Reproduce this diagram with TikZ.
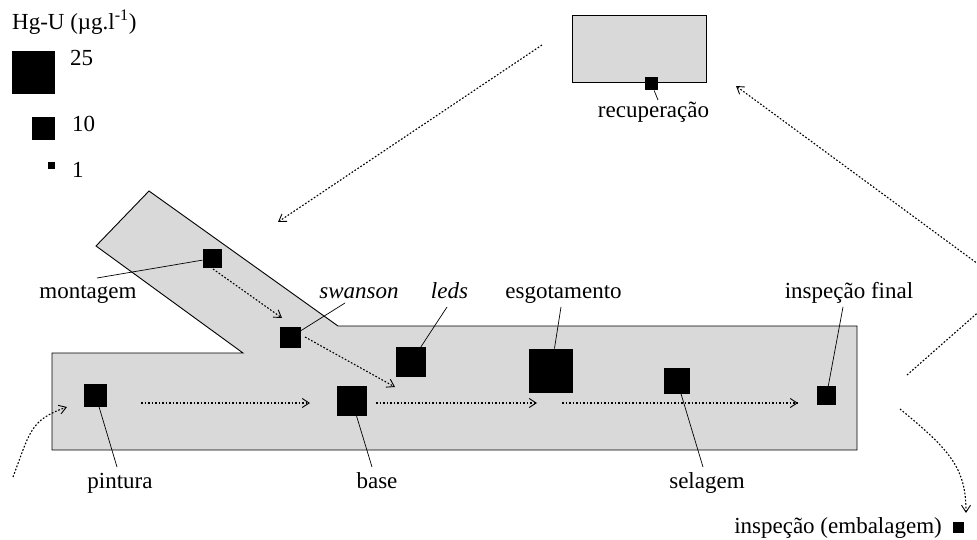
\documentclass[tikz,border=0pt]{standalone}
\usepackage{fontspec}
\setmainfont{Liberation Serif}
\usetikzlibrary{arrows.meta}
\definecolor{zonegray}{RGB}{217,217,217}
\begin{document}
\begin{tikzpicture}[x=1pt,y=-1pt,
  font=\fontsize{23}{27}\selectfont,
  zone/.style={fill=zonegray, draw=black, line width=0.9pt},
  sq/.style={fill=black, draw=none, inner sep=0pt, outer sep=0pt, minimum size=#1},
  lbl/.style={anchor=base, inner sep=0pt},
  lead/.style={line width=0.7pt},
  flow/.style={line width=1.1pt, dash pattern=on 1.7pt off 1.8pt,
    -{Straight Barb[length=7pt,width=9pt,line width=0.9pt]}}]
\useasboundingbox (0,0) rectangle (977,540);

% production hall and recovery room
\draw[zone] (52,353) -- (243,353) -- (96,246) -- (149,191) -- (338,326)
  -- (857,326) -- (857,450) -- (52,450) -- cycle;
\draw[zone] (572,15) rectangle (706,82);

% leader ends and flow arrow ends
\coordinate (mont-e) at (97,278);
\coordinate (swan-e) at (345,303);
\coordinate (leds-e) at (447,307);
\coordinate (esgo-e) at (561,307);
\coordinate (insp-e) at (843,307);
\coordinate (recu-e) at (658,100);
\coordinate (pint-e) at (117,467);
\coordinate (base-e) at (372,467);
\coordinate (sela-e) at (703,467);

\coordinate (f1s) at (141,403);  \coordinate (f1e) at (310,403);
\coordinate (f2s) at (376,403);  \coordinate (f2e) at (537,403);
\coordinate (f3s) at (562,403);  \coordinate (f3e) at (798,403);
\coordinate (f4s) at (213,269);  \coordinate (f4e) at (282,318);
\coordinate (f5s) at (305,337);  \coordinate (f5e) at (395,387);
\coordinate (f6s) at (542,45);   \coordinate (f6e) at (278,222);
\coordinate (f7s) at (907,375);  \coordinate (f7e) at (736,86);
\coordinate (f8s) at (900,409);  \coordinate (f8e) at (966,513);
\coordinate (f9s) at (13,477);   \coordinate (f9e) at (67,407);

% sampling points (side ~ Hg-U level)
\node[sq=19pt] (mont) at (212,258.5) {};
\node[sq=21pt] (swan) at (290,337.5) {};
\node[sq=30pt] (leds) at (411,362) {};
\node[sq=44pt] (esgo) at (551,370.5) {};
\node[sq=23pt] (pint) at (95.5,395) {};
\node[sq=30pt] (base) at (352,401) {};
\node[sq=26pt] (sela) at (677,380.5) {};
\node[sq=19pt] (insp) at (826.5,395.5) {};
\node[sq=13pt] (recu) at (651.5,84) {};
\node[sq=11pt] (emba) at (958.5,527.5) {};

% labels
\node[lbl] (t-mont) at (88,298) {montagem};
\node[lbl] (t-swan) at (359,298) {\itshape swanson};
\node[lbl] (t-leds) at (449.5,298) {\itshape leds};
\node[lbl] (t-esgo) at (563.5,298) {esgotamento};
\node[lbl] (t-insp) at (849,298) {inspeção final};
\node[lbl] (t-recu) at (653.5,118) {recuperação};
\node[lbl] (t-pint) at (120,488) {pintura};
\node[lbl] (t-base) at (377,488) {base};
\node[lbl] (t-sela) at (707,488) {selagem};
\node[lbl, anchor=base east] (t-emba) at (942,533) {inspeção (embalagem)};

% leaders
\draw[lead] (mont) -- (mont-e);
\draw[lead] (swan) -- (swan-e);
\draw[lead] (leds) -- (leds-e);
\draw[lead] (esgo) -- (esgo-e);
\draw[lead] (insp) -- (insp-e);
\draw[lead] (recu) -- (recu-e);
\draw[lead] (pint) -- (pint-e);
\draw[lead] (base) -- (base-e);
\draw[lead] (sela) -- (sela-e);

% material flow
\draw[flow] (f1s) -- (f1e);
\draw[flow] (f2s) -- (f2e);
\draw[flow] (f3s) -- (f3e);
\draw[flow] (f4s) -- (f4e);
\draw[flow] (f5s) -- (f5e);
\draw[flow] (f6s) -- (f6e);
\begin{scope}
  \clip (0,0) rectangle (977,540);
  \draw[flow, rounded corners=25pt] (f7s) -- (1008,286) -- (f7e);
\end{scope}
\draw[flow] (f8s) .. controls (950,450) and (966,468) .. (f8e);
\draw[flow] (f9s) .. controls (30,432) and (30,420) .. (f9e);

% legend
\node[lbl, anchor=base west] (lg-title) at (12,30) {Hg-U (µg.l\textsuperscript{-1})};
\node[sq=43pt] (lg25) at (33.5,73) {};
\node[sq=23pt] (lg10) at (43.5,128.5) {};
\node[sq=7pt] (lg1) at (51.5,165.5) {};
\node[lbl, anchor=base west] (lg25-t) at (70,66) {25};
\node[lbl, anchor=base west] (lg10-t) at (72,132) {10};
\node[lbl, anchor=base west] (lg1-t) at (72,178) {1};
\end{tikzpicture}
\end{document}
